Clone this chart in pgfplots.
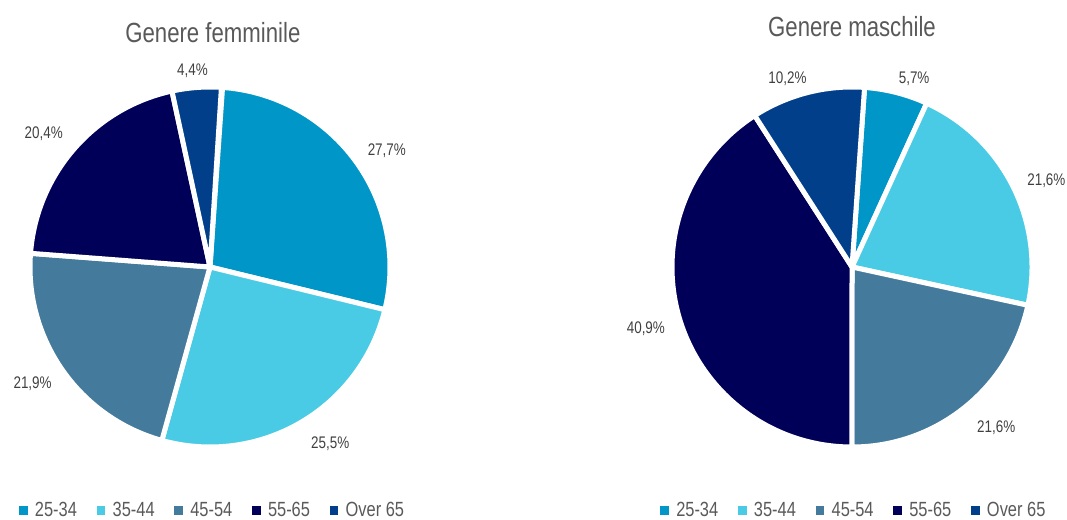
\documentclass[border=0pt]{standalone}
\usepackage{fontspec}
\setmainfont{Liberation Sans}[FakeStretch=0.8]
\usepackage{pgfplots}
\usepackage{pgfplotstable}
\pgfplotsset{compat=1.18}

\definecolor{c2534}{HTML}{0097C8}
\definecolor{c3544}{HTML}{4ACBE5}
\definecolor{c4554}{HTML}{447A9C}
\definecolor{c5565}{HTML}{000058}
\definecolor{cover}{HTML}{023F8A}
\definecolor{labelgray}{HTML}{404040}
\definecolor{titlegray}{HTML}{595959}

% shares per age group, in percent; dx,dy nudge the data label (pt)
\pgfplotstableread[col sep=comma]{
group,value,color,dx,dy
25-34,27.7,c2534,3,-7.5
35-44,25.5,c3544,12,0.75
45-54,21.9,c4554,-1.5,4.5
55-65,20.4,c5565,-4.5,-4.5
Over 65,4.4,cover,-2.25,1.5
}\femdata

\pgfplotstableread[col sep=comma]{
group,value,color,dx,dy
25-34,5.7,c2534,9.75,-3.75
35-44,21.6,c3544,0.75,-8.25
45-54,21.6,c4554,9.75,1.5
55-65,40.9,c5565,2.25,0
Over 65,10.2,cover,-11.25,-3.75
}\maldata

\def\rpie{135pt}

% slices clockwise from just past 12 o'clock, labels outside, legend from the same rows
\newcommand\drawpie[1]{%
  \pgfplotstablegetrowsof{#1}%
  \pgfmathtruncatemacro\nrows{\pgfplotsretval-1}%
  \def\cum{86}%
  \pgfplotsforeachungrouped \i in {0,...,\nrows}{%
    \pgfplotstablegetelem{\i}{value}\of{#1}\let\val\pgfplotsretval
    \pgfplotstablegetelem{\i}{color}\of{#1}\let\col\pgfplotsretval
    \pgfplotstablegetelem{\i}{group}\of{#1}\let\grp\pgfplotsretval
    \pgfplotstablegetelem{\i}{dx}\of{#1}\let\ldx\pgfplotsretval
    \pgfplotstablegetelem{\i}{dy}\of{#1}\let\ldy\pgfplotsretval
    \pgfmathsetmacro\endang{\cum-3.6*\val}%
    \pgfmathsetmacro\midang{\cum-1.8*\val}%
    \pgfmathsetmacro\rlab{144.75+19.5*abs(cos(\midang))}%
    \edef\temp{%
      \noexpand\fill[\col, draw=white, line width=3.75pt, line join=round]
        (axis cs:0,0) -- ++(\cum:\rpie) arc[start angle=\cum, end angle=\endang, radius=\rpie] -- cycle;
      \noexpand\path (axis cs:0,0) ++(\midang:\rlab pt) ++(\ldx pt,\ldy pt) node[anchor=center, inner sep=1pt,
        text=labelgray, font=\noexpand\fontsize{12.6}{15}\noexpand\selectfont]
        {\noexpand\pgfmathprintnumber[fixed,fixed zerofill,precision=1,use comma,assume math mode=true]{\val}\noexpand\%};
      \noexpand\addlegendimage{\col}
      \noexpand\addlegendentry{\grp}
    }\temp
    \let\cum\endang
  }%
}

\pgfplotsset{
  pie/.style={
    anchor=center, x=135pt, y=135pt,
    xmin=-1, xmax=1, ymin=-1, ymax=1,
    hide axis, clip=false,
    title style={anchor=center, text=titlegray, font=\fontsize{20.8}{24}\selectfont},
    legend columns=5,
    legend image code/.code={\fill[##1] (0pt,-2.9pt) rectangle (5.8pt,2.9pt); \path[draw=none,fill=none] (9.8pt,0pt);},
    legend style={draw=none, fill=none, anchor=center,
      text=titlegray, font=\fontsize{15.4}{18}\selectfont,
      nodes={inner sep=2pt},
      /tikz/every even column/.append style={column sep=12.75pt}},
  },
}

\begin{document}
\begin{tikzpicture}
\useasboundingbox (0,0) rectangle (800.25pt,389.25pt);

\begin{axis}[pie, at={(157.5pt,189pt)},
    title={Genere femminile}, title style={at={(0.508,1.128)}},
    legend style={at={(0.508,-0.175)}}]
\drawpie{\femdata}
\end{axis}

\begin{axis}[pie, at={(639pt,189pt)},
    title={Genere maschile}, title style={at={(0.5,1.145)}},
    legend style={at={(0.506,-0.175)}}]
\drawpie{\maldata}
\end{axis}
\end{tikzpicture}
\end{document}
